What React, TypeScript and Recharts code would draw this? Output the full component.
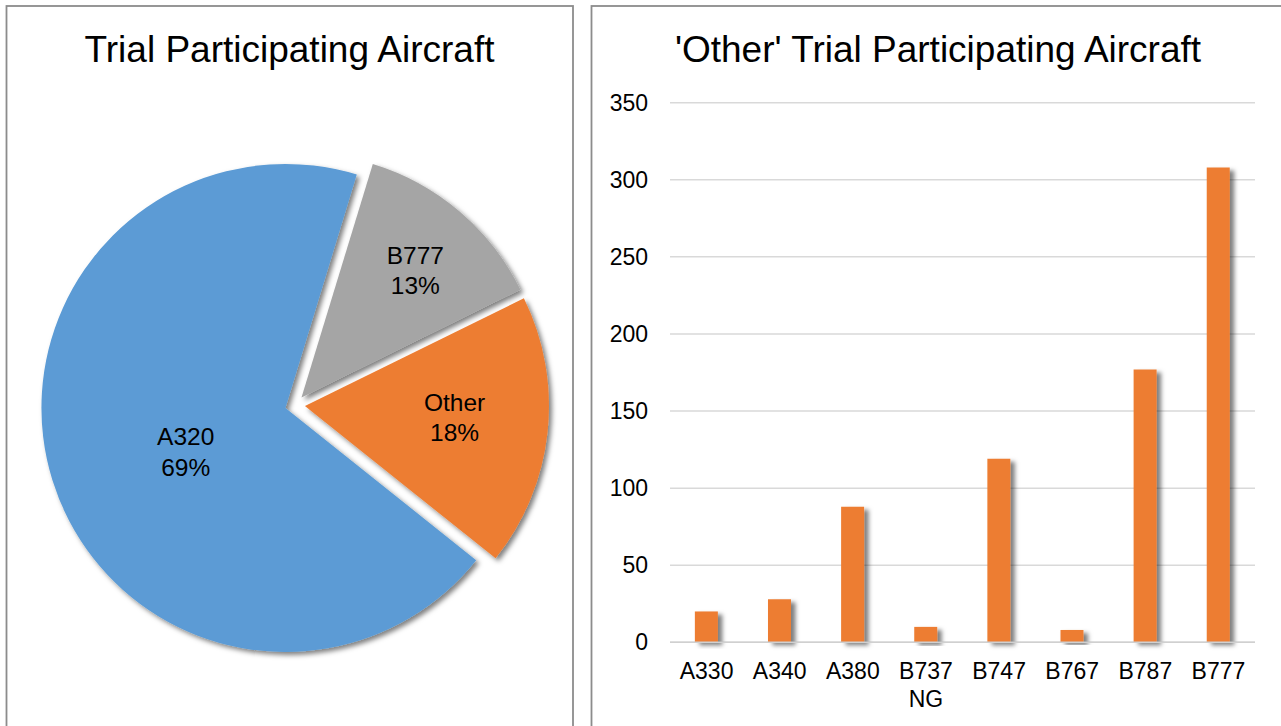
import React from 'react';
import {
  PieChart,
  Pie,
  Cell,
  Sector,
  BarChart,
  Bar,
  XAxis,
  YAxis,
  CartesianGrid,
  Rectangle,
} from 'recharts';

// ---------- data ----------
const pieNames = ['A320', 'B777', 'Other'];
const pieValues = [69, 13, 18];
const pieColors = ['#5B9BD5', '#A5A5A5', '#ED7D31'];

const barCategories = ['A330', 'A340', 'A380', 'B737 NG', 'B747', 'B767', 'B787', 'B777'];
const barValues = [20, 28, 88, 10, 119, 8, 177, 308];
const yTicks = [0, 50, 100, 150, 200, 250, 300, 350];

const leftTitle = 'Trial Participating Aircraft';
const rightTitle = "'Other' Trial Participating Aircraft";

const pieData = pieNames.map((name, i) => ({ name, value: pieValues[i] }));
const barData = barCategories.map((name, i) => ({ name, value: barValues[i] }));

// ---------- styling ----------
const FONT = "'Liberation Sans', Arial, Helvetica, sans-serif";
const RADIAN = Math.PI / 180;
const EXPLODE = 10;
const LABEL_PLACEMENT: Record<string, { r: number; dA: number }> = {
  A320: { r: 0.446, dA: 6.4 },
  B777: { r: 0.7, dA: -1.4 },
  Other: { r: 0.615, dA: 2 },
};

const ExplodedSector = (props: any) => {
  const { cx, cy, midAngle } = props;
  const dx = EXPLODE * Math.cos(-midAngle * RADIAN);
  const dy = EXPLODE * Math.sin(-midAngle * RADIAN);
  return <Sector {...props} cx={cx + dx} cy={cy + dy} stroke="none" filter="url(#pieShadow)" />;
};

const renderPieLabel = (props: any) => {
  const { cx, cy, midAngle, outerRadius, name, percent } = props;
  const place = LABEL_PLACEMENT[name] || { r: 0.6, dA: 0 };
  const ox = cx + EXPLODE * Math.cos(-midAngle * RADIAN);
  const oy = cy + EXPLODE * Math.sin(-midAngle * RADIAN);
  const a = midAngle + place.dA;
  const x = ox + place.r * outerRadius * Math.cos(-a * RADIAN);
  const y = oy + place.r * outerRadius * Math.sin(-a * RADIAN);
  return (
    <text x={x} y={y} textAnchor="middle" fontSize={24.5} fill="#000" fontFamily={FONT}>
      <tspan x={x} y={y - 6.5}>{name}</tspan>
      <tspan x={x} y={y + 24.2}>{`${Math.round(percent * 100)}%`}</tspan>
    </text>
  );
};

const XTick = (props: any) => {
  const { x, y, payload } = props;
  const lines = String(payload.value).split(' ');
  return (
    <text x={x} y={y} textAnchor="middle" fontSize={23} fill="#000" fontFamily={FONT}>
      {lines.map((l, i) => (
        <tspan key={i} x={x} y={y + 16.5 + i * 27.7}>
          {l}
        </tspan>
      ))}
    </text>
  );
};

const BarShape = (props: any) => <Rectangle {...props} filter="url(#barShadow)" />;

export default function App() {
  return (
    <div
      style={{
        position: 'absolute',
        left: 0,
        top: 0,
        width: 1281,
        height: 726,
        overflow: 'hidden',
        background: '#fff',
        fontFamily: FONT,
      }}
    >
      <svg width={1281} height={726} style={{ position: 'absolute', left: 0, top: 0 }}>
        <defs>
          <filter id="pieShadow" x="-20%" y="-20%" width="140%" height="140%">
            <feDropShadow dx="3" dy="3" stdDeviation="2.8" floodColor="#000" floodOpacity="0.5" />
          </filter>
          <filter id="barShadow" x="-30%" y="-10%" width="180%" height="130%">
            <feDropShadow dx="4.5" dy="3" stdDeviation="2.2" floodColor="#000" floodOpacity="0.5" />
          </filter>
        </defs>
        <rect x={6.5} y={6} width={566.5} height={800} fill="none" stroke="#8c8c8c" strokeWidth={1.8} />
        <rect x={591.5} y={6} width={800} height={800} fill="none" stroke="#8c8c8c" strokeWidth={1.8} />
        <text x={289.5} y={62} textAnchor="middle" fontSize={37} fill="#000" fontFamily={FONT}>
          {leftTitle}
        </text>
        <text x={938} y={62} textAnchor="middle" fontSize={37} fill="#000" fontFamily={FONT}>
          {rightTitle}
        </text>
      </svg>

      <div style={{ position: 'absolute', left: 0, top: 0 }}>
        <PieChart width={580} height={726}>
          <Pie
            data={pieData}
            dataKey="value"
            nameKey="name"
            cx={290}
            cy={400}
            outerRadius={244}
            startAngle={-38.6}
            endAngle={-398.6}
            stroke="none"
            shape={ExplodedSector}
            label={renderPieLabel}
            labelLine={false}
            isAnimationActive={false}
          >
            {pieData.map((d, i) => (
              <Cell key={d.name} fill={pieColors[i]} />
            ))}
          </Pie>
        </PieChart>
      </div>

      <div style={{ position: 'absolute', left: 591, top: 0 }}>
        <BarChart
          width={690}
          height={726}
          data={barData}
          margin={{ top: 102.7, right: 26, bottom: 23.7, left: 0 }}
          barCategoryGap="34%"
        >
          <CartesianGrid vertical={false} stroke="#d9d9d9" strokeWidth={1.5} />
          <XAxis
            dataKey="name"
            height={60}
            tickLine={false}
            tickMargin={14}
            axisLine={{ stroke: '#d0d0d0', strokeWidth: 1.5 }}
            tick={<XTick />}
            interval={0}
          />
          <YAxis
            width={79}
            domain={[0, 350]}
            ticks={yTicks}
            axisLine={false}
            tickLine={false}
            tickMargin={16}
            tick={{ fontSize: 23, fill: '#000', fontFamily: FONT }}
          />
          <Bar dataKey="value" fill="#ED7D31" shape={BarShape} isAnimationActive={false} />
        </BarChart>
      </div>
    </div>
  );
}
